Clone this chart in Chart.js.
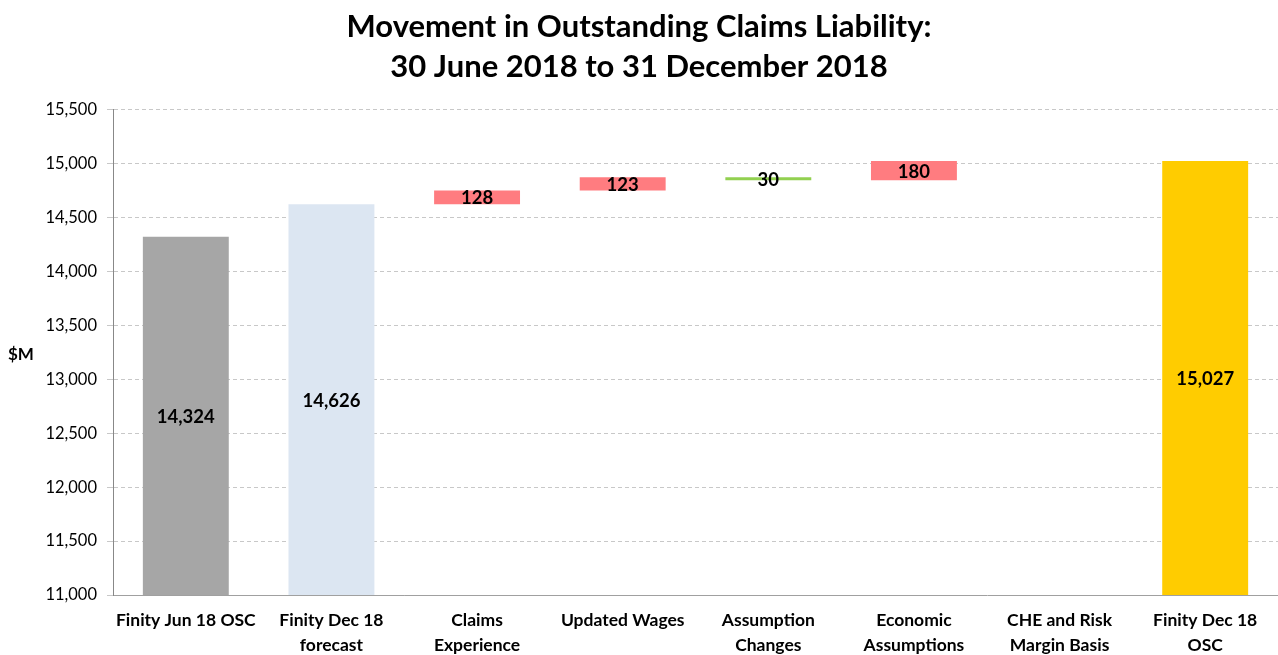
<!DOCTYPE html>
<html><head><meta charset="utf-8">
<script src="https://cdn.jsdelivr.net/npm/chart.js@4.4.1/dist/chart.umd.min.js"></script>
<style>html,body{margin:0;padding:0;width:1278px;height:655px;overflow:hidden;background:#fff}#wrap{width:1278px;height:680px}</style>
</head><body><div id="wrap"><canvas id="c" width="1278" height="680"></canvas></div>
<script>
const categories = [["Finity Jun 18 OSC"],["Finity Dec 18","forecast"],["Claims","Experience"],["Updated Wages"],["Assumption","Changes"],["Economic","Assumptions"],["CHE and Risk","Margin Basis"],["Finity Dec 18","OSC"]];
const openingValue = 14324;
const forecastValue = 14626;
const movementDeltas = [128, 123, -30, 180, 0];
const closingValue = 15027;
const barColors = ["#A6A6A6","#DCE6F2","#FF7C80","#FF7C80","#92D050","#FF7C80","#FF7C80","#FFCC00"];
const yTicks = [11000,11500,12000,12500,13000,13500,14000,14500,15000,15500];

const BASE = 11000;
const ranges = [[BASE, openingValue],[BASE, forecastValue]];
const labelsTxt = [openingValue, forecastValue];
let run = forecastValue;
movementDeltas.forEach(d => { ranges.push([run, run + d]); labelsTxt.push(d === 0 ? null : Math.abs(d)); run += d; });
ranges.push([BASE, closingValue]); labelsTxt.push(closingValue);

const FONT = 'Lato, "Open Sans", sans-serif';
const fmt = v => v.toLocaleString('en-US');

const labelPlugin = {
  id: 'valLabels',
  afterDatasetsDraw(chart) {
    const ctx = chart.ctx;
    const meta = chart.getDatasetMeta(0);
    ctx.save();
    ctx.font = 'bold 18.5px ' + FONT;
    ctx.fillStyle = '#000';
    ctx.textAlign = 'center';
    ctx.textBaseline = 'middle';
    meta.data.forEach((el, i) => {
      if (labelsTxt[i] == null) return;
      const p = el.getProps(['x','y','base'], true);
      ctx.fillText(fmt(labelsTxt[i]), p.x, (p.y + p.base) / 2 + 1);
    });
    // y axis title
    ctx.font = 'bold 17px ' + FONT;
    ctx.textAlign = 'left';
    ctx.fillText('$M', 8, 355);
    ctx.restore();
  }
};

new Chart(document.getElementById('c'), {
  type: 'bar',
  data: { labels: categories, datasets: [{ data: ranges, backgroundColor: barColors, borderWidth: 0, categoryPercentage: 1, barPercentage: 0.59, borderSkipped: false }] },
  options: {
    responsive: false, animation: false,
    layout: { padding: { left: 0, right: 0, top: 0, bottom: 0 } },
    plugins: {
      legend: { display: false }, tooltip: { enabled: false },
      title: { display: true, text: ['Movement in Outstanding Claims Liability:', '30 June 2018 to 31 December 2018'], color: '#000',
        font: { family: FONT, size: 31, weight: 'bold', lineHeight: 1.29 }, padding: { top: 7, bottom: 23 } }
    },
    scales: {
      x: {
        grid: { display: false, drawTicks: false },
        border: { display: true, color: '#A0A0A0', width: 1 },
        ticks: { color: '#000', font: { family: FONT, size: 17.5, weight: 'bold', lineHeight: 1.43 }, padding: 13, maxRotation: 0, autoSkip: false },
        afterFit: s => { s.height = 85; }
      },
      y: {
        min: 11000, max: 15500,
        afterBuildTicks: s => { s.ticks = yTicks.map(v => ({ value: v })); },
        grid: { color: '#C8C8C8', lineWidth: 1, tickLength: 6, tickColor: '#C8C8C8' },
        border: { display: true, color: '#888888', width: 1, dash: [4, 3] },
        ticks: { color: '#000', font: { family: FONT, size: 16.5 }, padding: 10, callback: v => fmt(v) },
        afterFit: s => { s.width = 113; }
      }
    }
  },
  plugins: [labelPlugin]
});
</script></body></html>
